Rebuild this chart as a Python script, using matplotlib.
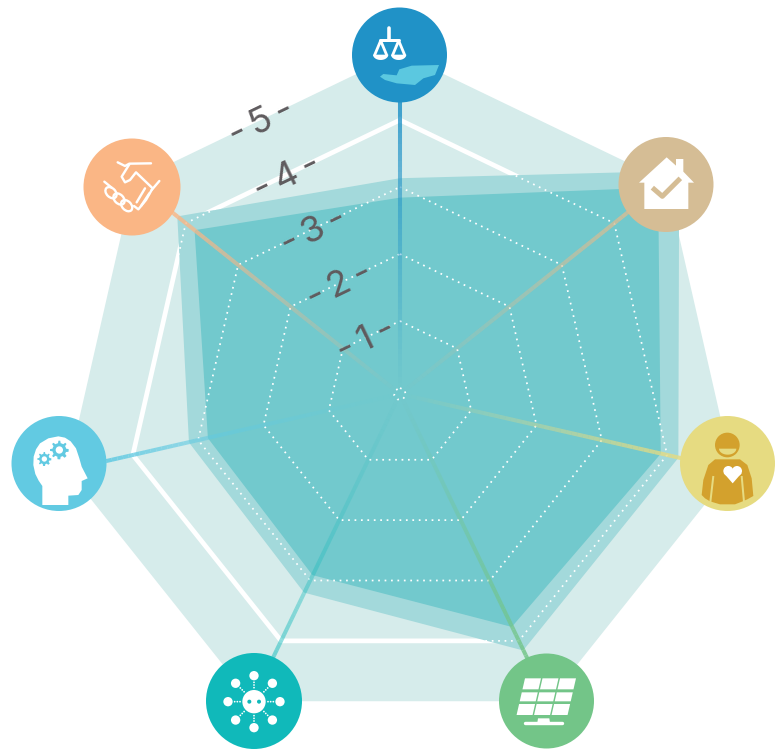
import numpy as np
import matplotlib
matplotlib.use("Agg")
import matplotlib.pyplot as plt
from matplotlib.collections import LineCollection
from matplotlib.patches import Circle, Polygon, Ellipse

# Chart values (score on each of the 7 spokes, clockwise from the top)
upper_scores = [3.10, 5.20, 4.14, 4.12, 3.17, 3.11, 4.12]
lower_scores = [2.81, 4.80, 3.87, 3.73, 2.88, 2.82, 3.79]
ring_levels = [0, 1, 2, 3, 4]
ring_max = 5
tick_values = [1, 2, 3, 4, 5]
spoke_colors = ["#2092C7", "#D5BD95", "#E6DB81", "#73C588", "#10B9BA", "#62CAE2", "#FAB685"]
spoke_strength = [1, 1, 1, 1, 0.6, 1, 1]

W, H = 783, 749
CX, CY = 400, 394
PX_ZERO, PX_UNIT = 6, 67
LIGHT, BAND, DARK = "#D6ECEB", "#A3D9DB", "#72C9CD"

n = len(upper_scores)
theta = np.arange(n) * 2 * np.pi / n


def closed(values):
    return np.r_[theta, theta[0]], np.r_[values, values[0]]


fig = plt.figure(figsize=(W / 100, H / 100), dpi=100)

# polar axes sized so one unit is PX_UNIT pixels around the chart centre
rmax = 6
rmin = -PX_ZERO / PX_UNIT
half = rmax * PX_UNIT + PX_ZERO
ax = fig.add_axes([(CX - half) / W, (H - CY - half) / H, 2 * half / W, 2 * half / H],
                  projection="polar")
ax.set_theta_zero_location("N")
ax.set_theta_direction(-1)
ax.set_ylim(rmin, rmax)
ax.set_rorigin(rmin)
ax.axis("off")

# background, solid ring, score band, dotted rings
ax.fill(*closed([ring_max] * n), color=LIGHT, lw=0, zorder=1)
ax.plot(*closed([ring_levels[-1]] * n), color="white", lw=3.4, zorder=2)
for vals, col, z in [(upper_scores, BAND, 3), (lower_scores, DARK, 4)]:
    ax.fill(*closed(vals), facecolor=col, edgecolor=col, lw=3, joinstyle="round", zorder=z)
for lev in ring_levels:
    ax.plot(*closed([lev] * n), color="white", lw=1.25, ls=(0, (1, 2.7)), zorder=5)

# spokes fade out towards the centre
steps = 60
for th, col, s in zip(theta, spoke_colors, spoke_strength):
    rr = np.linspace(rmin, ring_max, steps + 1)
    segs = [[(th, rr[i]), (th, rr[i + 1])] for i in range(steps)]
    rgba = np.tile(matplotlib.colors.to_rgba(col), (steps, 1))
    rgba[:, 3] = np.linspace(0, 1, steps) ** 1.1 * s
    ax.add_collection(LineCollection(segs, colors=rgba, linewidths=2.9, capstyle="butt", zorder=6))

# tick labels sit on the edge between the top and top-left spokes
for v in tick_values:
    r_px = (PX_ZERO + PX_UNIT * v) * np.cos(np.pi / n)
    ax.annotate(f"-\u2009{v}\u2009-", xy=(-np.pi / n, (r_px - PX_ZERO) / PX_UNIT), xytext=(-4, -4),
                textcoords="offset points", rotation=25.7,
                rotation_mode="anchor", ha="center", va="center", fontsize=26,
                color="#5F5B5E", family="Inter", zorder=7)

# overlay in pixel coordinates for the round badges and their icons
ov = fig.add_axes([0, 0, 1, 1])
ov.set_xlim(0, W)
ov.set_ylim(H, 0)
ov.axis("off")
ov.patch.set_alpha(0)


def pts(x0, y0, xy):
    return [(x0 + a / 3, y0 + b / 3) for a, b in xy]


def poly(x0, y0, xy, color="white", z=9):
    ov.add_patch(Polygon(pts(x0, y0, xy), closed=True, fc=color, ec="none", zorder=z))


def line(x0, y0, xy, color="white", w=3, z=9, cap="round"):
    p = np.array(pts(x0, y0, xy))
    ov.plot(p[:, 0], p[:, 1], color=color, lw=w * 0.72, zorder=z,
            solid_capstyle=cap, solid_joinstyle="round")


def disc(x0, y0, x, y, r, color="white", z=9):
    ov.add_patch(Circle((x0 + x / 3, y0 + y / 3), r / 3, fc=color, ec="none", zorder=z))


def gear(x0, y0, x, y, r, color, hole, z=10):
    a = np.linspace(0, 2 * np.pi, 64, endpoint=False)
    rad = np.where(np.cos(8 * a) > 0, r, r * 0.74)
    xy = [(x + ra * np.cos(t), y + ra * np.sin(t)) for ra, t in zip(rad, a)]
    poly(x0, y0, xy, color, z)
    disc(x0, y0, x, y, hole, "white", z + 1)


badges = [(399.5, 55, 47.5), (666, 184.5, 47.5), (727.5, 463.5, 47.5), (546.5, 701, 47.5),
          (254, 701, 48), (59, 463.5, 47.5), (132, 187, 48.5)]
for (bx, by, br), col in zip(badges, spoke_colors):
    ov.add_patch(Circle((bx, by), br, fc=col, ec="none", zorder=8))

# scales and hand
x0, y0 = 340, 0
line(x0, y0, [(148, 85), (148, 120)], w=3.6)
line(x0, y0, [(120, 120), (178, 120)], w=3)
for c in (122, 176):
    line(x0, y0, [(c - 18, 165), (c, 122), (c + 18, 165)], w=2.8)
    a = np.linspace(0, np.pi, 16)
    poly(x0, y0, [(c + 23 * np.cos(t), 164 + 16 * np.sin(t)) for t in a])
poly(x0, y0, [(120, 230), (130, 222), (170, 226), (178, 208), (215, 197), (297, 195), (285, 225),
              (250, 235), (225, 255), (170, 250), (135, 240)], "#5BC8E0")

# house
x0, y0 = 600, 120
poly(x0, y0, [(200, 112), (228, 137), (228, 117), (250, 117), (250, 155), (282, 188), (265, 188),
              (265, 267), (133, 267), (133, 188), (117, 188)])
line(x0, y0, [(157, 203), (187, 229), (241, 175)], color=spoke_colors[1], w=5, cap="butt")

# person with heart
x0, y0 = 660, 400
gold = "#D3A12D"
disc(x0, y0, 202, 135, 37, gold)
a = np.linspace(0, np.pi, 20)
poly(x0, y0, [(203 + 26 * np.cos(t), 146 + 18 * np.sin(t)) for t in a], spoke_colors[2], 10)
poly(x0, y0, [(125, 285), (130, 240), (145, 195), (165, 178), (240, 178), (262, 195), (275, 235),
              (280, 288), (262, 298), (248, 304), (225, 313), (180, 313), (150, 304), (135, 295)], gold)
line(x0, y0, [(160, 228), (151, 306)], color=spoke_colors[2], w=2, cap="butt", z=10)
line(x0, y0, [(245, 228), (252, 306)], color=spoke_colors[2], w=2, cap="butt", z=10)
disc(x0, y0, 205, 213, 15, "white", 10)
disc(x0, y0, 231, 213, 15, "white", 10)
poly(x0, y0, [(191, 219), (245, 219), (218, 250)], "white", 10)

# solar panel
x0, y0 = 480, 630
rows = [(145, 178), (187, 214), (222, 255)]
for top, bot in rows:
    for k in range(3):
        shift = lambda y: -(y - 145) * 0.23
        xl = 135 + k * 52.5
        xr = xl + 48
        poly(x0, y0, [(xl + shift(top), top), (xr + shift(top), top), (xr + shift(bot), bot),
                      (xl + shift(bot), bot)])
line(x0, y0, [(135, 278), (245, 278)], w=3.4)
poly(x0, y0, [(172, 278), (174, 265), (208, 265), (210, 278)])

# plug with radiating dots
x0, y0 = 190, 630
plug = spoke_colors[4]
disc(x0, y0, 192, 215, 35)
disc(x0, y0, 178, 215, 6, plug, 10)
disc(x0, y0, 207, 215, 6, plug, 10)
for k in range(8):
    t = k * np.pi / 4
    disc(x0, y0, 192 + 78 * np.cos(t), 215 + 78 * np.sin(t), 14)
    for d in (42, 50, 58):
        disc(x0, y0, 192 + d * np.cos(t), 215 + d * np.sin(t), 2.6)

# head with gears
x0, y0 = 0, 400
poly(x0, y0, [(127, 315), (127, 258), (116, 242), (106, 222), (100, 195), (101, 170), (108, 148),
              (120, 130), (145, 115), (175, 109), (195, 113), (212, 124), (228, 145), (238, 175),
              (245, 200), (263, 235), (245, 243), (245, 270), (235, 285), (205, 287), (205, 315)])
gear(x0, y0, 178, 150, 28, spoke_colors[5], 11)
gear(x0, y0, 133, 177, 21, spoke_colors[5], 8)

# handshake
x0, y0 = 70, 125
line(x0, y0, [(143, 112), (165, 123), (178, 116), (243, 115)], w=2.4)
line(x0, y0, [(178, 118), (155, 155), (165, 172), (180, 165), (198, 142), (248, 190)], w=2.4)
line(x0, y0, [(268, 168), (245, 195)], w=2.4)
line(x0, y0, [(103, 170), (125, 188)], w=2.4)
for cx_, cy_ in [(123, 203), (147, 222), (170, 242)]:
    ov.add_patch(Ellipse((x0 + cx_ / 3, y0 + cy_ / 3), 13, 9, angle=45, fc="none", ec="white",
                         lw=1.7, zorder=9))
line(x0, y0, [(245, 195), (228, 225), (205, 253), (192, 243)], w=2.4)
line(x0, y0, [(225, 190), (200, 232)], w=2.4)
line(x0, y0, [(238, 205), (213, 243)], w=2.4)

fig.savefig("out.png", dpi=100)
